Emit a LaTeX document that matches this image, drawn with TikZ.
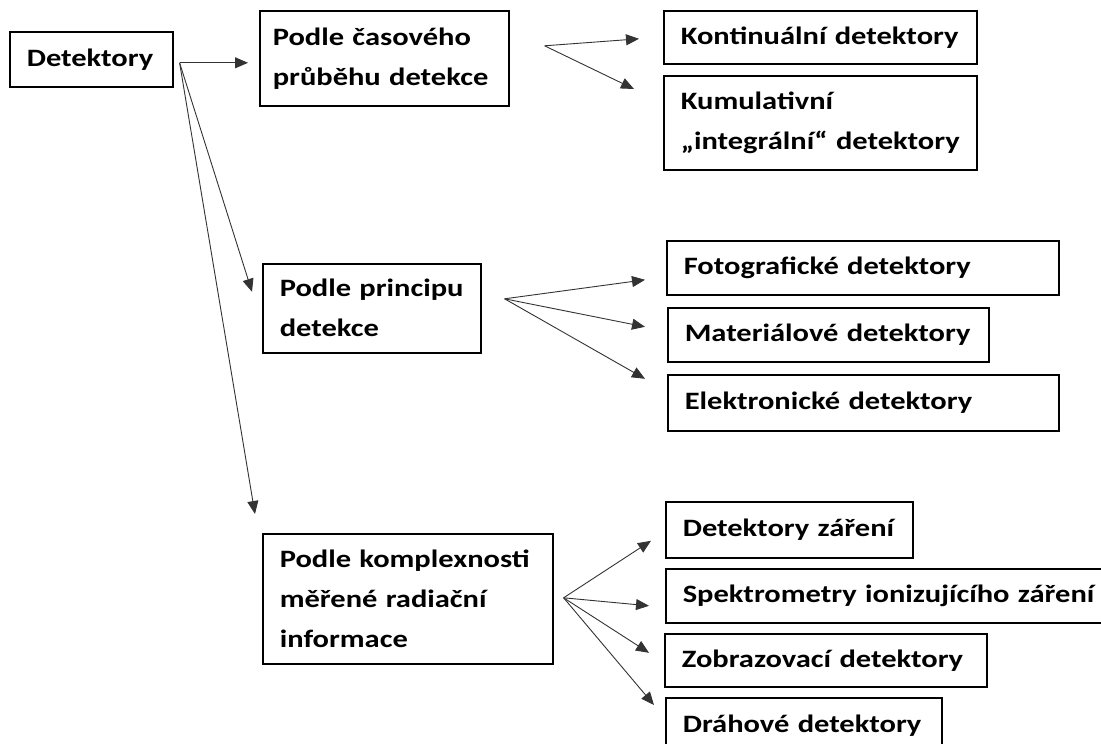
\documentclass[tikz,border=0pt]{standalone}
\usepackage{fontspec}
\setmainfont{Carlito}[FakeStretch=1.22]
\usetikzlibrary{arrows.meta}
\begin{document}
\begin{tikzpicture}[x=1pt,y=-1pt,>={Triangle[length=13pt,width=11pt]},
	box/.style={draw,line width=1.6pt,anchor=north west,inner xsep=17pt,inner ysep=0pt,align=left,font=\fontsize{25}{40}\selectfont\bfseries},
	link/.style={->,line width=0.9pt,black!80}]
	\useasboundingbox (0,0) rectangle (1101,744);
	\clip (0,0) rectangle (1101,744);
	% levy sloupec
	\node[box,text width=129pt,minimum height=55pt] (det) at (9,31) {Detektory};
	\node[box,inner xsep=13pt,text width=223pt,minimum height=95pt] (cas) at (259,10) {Podle časového\\průběhu detekce};
	\node[box,text width=184pt,minimum height=89pt] (pri) at (262,263) {Podle principu\\detekce};
	\node[box,text width=256pt,minimum height=130pt] (kom) at (262,533) {Podle komplexnosti\\měřené radiační\\informace};
	% pravy sloupec
	\node[box,text width=279pt,minimum height=53pt] (kon) at (663,10) {Kontinuální detektory};
	\node[box,text width=279pt,minimum height=94pt] (kum) at (663,75) {Kumulativní\\„integrální“ detektory};
	\node[box,text width=358pt,minimum height=54pt] (fot) at (666,240) {Fotografické detektory};
	\node[box,text width=287pt,minimum height=54pt] (mat) at (667,307) {Materiálové detektory};
	\node[box,text width=357pt,minimum height=56pt] (ele) at (667,374) {Elektronické detektory};
	\node[box,text width=213pt,minimum height=56pt] (zar) at (665,501) {Detektory záření};
	\node[box,text width=430pt,minimum height=54pt] (spe) at (665,568) {Spektrometry ionizujícího záření};
	\node[box,text width=288pt,minimum height=53pt] (zob) at (664,633) {Zobrazovací detektory};
	\node[box,text width=242pt,minimum height=56pt] (dra) at (665,697) {Dráhové detektory};
	% vychozi body sipek
	\coordinate (det-out) at ([shift={(6,3.5)}]det.east);
	\coordinate (cas-out) at ([shift={(35,-12.5)}]cas.east);
	\coordinate (pri-out) at ([shift={(23,-9.5)}]pri.east);
	\coordinate (kom-out) at ([shift={(10,-1)}]kom.east);
	% sipky
	\draw[link] (det-out) -- ([shift={(-11,4.5)}]cas.west);
	\draw[link] (det-out) -- ([shift={(-10,-16.5)}]pri.west);
	\draw[link] (det-out) -- ([shift={(-7,-19)}]kom.north west);
	\draw[link] (cas-out) -- ([shift={(-24,1.5)}]kon.west);
	\draw[link] (cas-out) -- ([shift={(-29,14)}]kum.north west);
	\foreach \n/\dx/\dy in {fot/-21/12,mat/-22/-8,ele/-22/-24}
		\draw[link] (pri-out) -- ([shift={(\dx,\dy)}]\n.west);
	\foreach \n/\dx/\dy in {zar/-14/11,spe/-16/10,zob/-15/-7.5}
		\draw[link] (kom-out) -- ([shift={(\dx,\dy)}]\n.west);
	\draw[link] (kom-out) -- ([shift={(-11,8)}]dra.north west);
\end{tikzpicture}
\end{document}
